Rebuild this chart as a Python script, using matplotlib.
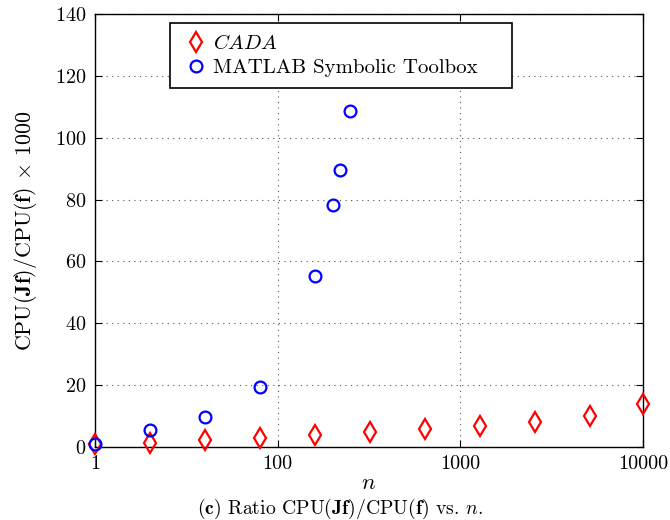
import matplotlib
matplotlib.use("Agg")
import matplotlib.pyplot as plt
from matplotlib.patches import Rectangle
from matplotlib.ticker import FixedLocator, NullLocator, FixedFormatter

plt.rcParams['font.family'] = ['cmr10', 'DejaVu Serif']
plt.rcParams['mathtext.fontset'] = 'cm'
plt.rcParams['axes.formatter.use_mathtext'] = True

# Data
n_cada = [10, 20, 40, 80, 160, 320, 640, 1280, 2560, 5120, 10000]
ratio_cada = [1.0, 1.4, 2.2, 3.0, 3.9, 4.9, 5.7, 6.8, 8.2, 10.0, 13.9]
n_matlab = [10, 20, 40, 80, 160, 200, 220, 250]
ratio_matlab = [1.0, 5.5, 9.6, 19.5, 55.4, 78.2, 89.6, 108.7]

xticks = [10, 100, 1000, 10000]
xticklabels = ["1", "100", "1000", "10000"]
yticks = [0, 20, 40, 60, 80, 100, 120, 140]

W, H = 670, 520
fig = plt.figure(figsize=(6.7, 5.2), dpi=100)
ax = fig.add_axes([95 / W, (H - 447) / H, (643 - 95) / W, (447 - 14) / H])

ax.plot(n_cada, ratio_cada, linestyle='none', marker='d', markersize=10,
        markerfacecolor='none', markeredgecolor='red', markeredgewidth=1.6,
        label=r'$CADA$', clip_on=False, zorder=3)
ax.plot(n_matlab, ratio_matlab, linestyle='none', marker='o', markersize=8.5,
        markerfacecolor='none', markeredgecolor='blue', markeredgewidth=1.6,
        label='MATLAB Symbolic Toolbox', clip_on=False, zorder=4)

ax.set_xscale('log')
ax.set_xlim(10, 10000)
ax.set_ylim(0, 140)
ax.xaxis.set_major_locator(FixedLocator(xticks))
ax.xaxis.set_major_formatter(FixedFormatter(xticklabels))
ax.xaxis.set_minor_locator(NullLocator())
ax.set_yticks(yticks)

ax.grid(True, linestyle=(0, (1, 4)), color='#555555', linewidth=0.8)
ax.tick_params(direction='in', top=True, right=True, length=5, width=0.8,
               labelsize=14.5, pad=6)
for s in ax.spines.values():
    s.set_linewidth(1.0)

ax.set_xlabel(r'$n$', fontsize=16.5, labelpad=0)
ax.set_ylabel(r'CPU($\mathbf{Jf}$)/CPU($\mathbf{f}$) $\times$ 1000', fontsize=15.8, labelpad=12)

# legend box (MATLAB style, with wide padding)
box = Rectangle((170 / W, (H - 88) / H), 342 / W, 65 / H, transform=fig.transFigure,
                facecolor='white', edgecolor='black', linewidth=1.2, zorder=5,
                clip_on=False)
ax.add_patch(box)
leg = ax.legend(loc='center left', bbox_to_anchor=(185.6 / W, (H - 55.5) / H),
                bbox_transform=fig.transFigure, fontsize=15,
                frameon=False, handletextpad=0.3, borderpad=0.0,
                labelspacing=0.25, handlelength=1.0, borderaxespad=0)
leg.set_zorder(6)

fig.text(340 / W, 6 / H,
         r'$\mathbf{(c)}$ Ratio CPU($\mathbf{Jf}$)/CPU($\mathbf{f}$) vs. $n$.',
         ha='center', va='baseline', fontsize=14.2)

fig.savefig('out.png', dpi=100)
